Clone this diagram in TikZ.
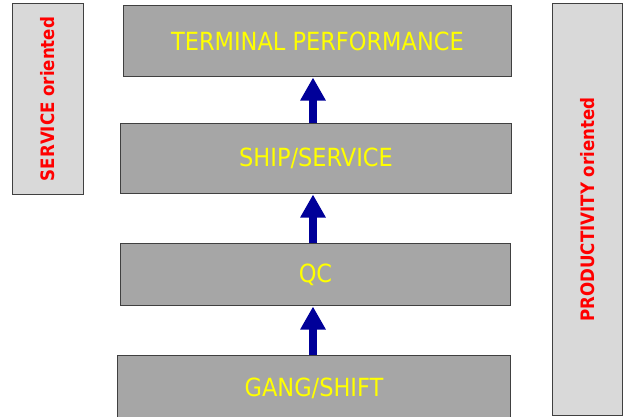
\documentclass[tikz,border=0pt]{standalone}
\usepackage{fontspec}
\setmainfont{DejaVu Sans Condensed}
\usetikzlibrary{arrows.meta}
\definecolor{boxgray}{RGB}{166,166,166}
\definecolor{sidegray}{RGB}{217,217,217}
\definecolor{edgegray}{RGB}{64,64,64}
\definecolor{txtyellow}{RGB}{255,255,0}
\definecolor{txtred}{RGB}{255,0,0}
\definecolor{arrblue}{RGB}{0,0,153}
\tikzset{
  levelbox/.style={draw=edgegray, line width=1pt, fill=boxgray, anchor=north west, inner sep=0pt,
    text=txtyellow, font=\fontsize{25}{30}\selectfont},
  sidebox/.style={draw=edgegray, line width=1pt, fill=sidegray, anchor=north west, inner sep=0pt},
  sidetext/.style={text=txtred, font=\fontsize{18.5}{22}\selectfont\bfseries, rotate=90},
  uparrow/.style={draw=arrblue, line width=8.5pt, -{Triangle[width=24pt,length=23pt]}, shorten >=0.5pt},
}
\begin{document}
\begin{tikzpicture}[x=1pt,y=1pt]
\useasboundingbox (0,0) rectangle (625,-416);
\node[sidebox, minimum width=71pt, minimum height=191pt] (lside) at (12,-3) {};
\node[sidetext] (ltext) at (lside.center) {SERVICE oriented};
\node[sidebox, minimum width=70pt, minimum height=412pt] (rside) at (552,-3) {};
\node[sidetext] (rtext) at (rside.center) {PRODUCTIVITY oriented};
\node[levelbox, minimum width=388pt, minimum height=71pt] (term) at (123,-5) {TERMINAL PERFORMANCE};
\node[levelbox, minimum width=391pt, minimum height=70pt] (ship) at (120,-123) {SHIP/SERVICE};
\node[levelbox, minimum width=390pt, minimum height=62pt] (qc) at (120,-243) {QC};
\node[levelbox, minimum width=393pt, minimum height=66pt] (gang) at (117,-355) {GANG/SHIFT};
\coordinate (ax) at (313,0);
\draw[uparrow] (ship.north -| ax) -- (term.south -| ax);
\draw[uparrow] (qc.north -| ax) -- (ship.south -| ax);
\draw[uparrow] (gang.north -| ax) -- (qc.south -| ax);
\end{tikzpicture}
\end{document}
